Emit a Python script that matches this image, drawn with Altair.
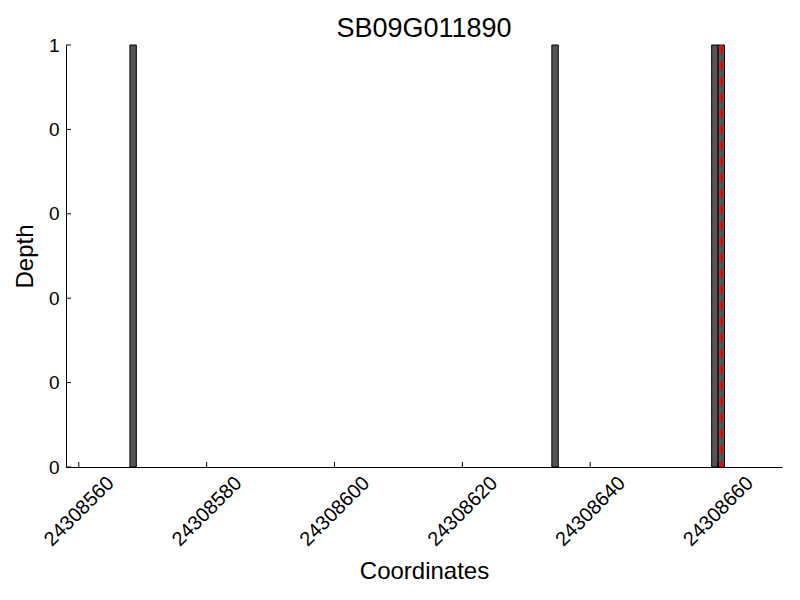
import altair as alt
import pandas as pd

title = "SB09G011890"
starts = [24308568, 24308634, 24308659, 24308660]
ends = [24308569, 24308635, 24308660, 24308661]
depths = [1, 1, 1, 1]
marker_x = [24308660.5]
x_ticks = [24308560, 24308580, 24308600, 24308620, 24308640, 24308660]
y_ticks = [0, 0.2, 0.4, 0.6, 0.8, 1.0]

W, H = 716, 422
bars_df = pd.DataFrame({"start": starts, "end": ends, "depth": depths})
marker_df = pd.DataFrame({"pos": marker_x})
xt_df = pd.DataFrame({"t": x_ticks})
yt_df = pd.DataFrame({"t": y_ticks})

FONT = "Liberation Sans"

xscale = alt.Scale(domain=[24308558, 24308670], nice=False, zero=False)
yscale = alt.Scale(domain=[0, 1], nice=False)

common = dict(grid=False, ticks=False, labelFont=FONT, titleFont=FONT,
              labelFontSize=20, titleFontSize=24, labelColor="black",
              titleColor="black", titleFontWeight="normal", domainColor="black",
              labelOverlap=False, labelFlush=False, labelLimit=0)

bars = alt.Chart(bars_df).mark_rect(
    color="#555555", stroke="black", strokeWidth=1
).encode(
    x=alt.X("start:Q", scale=xscale,
            axis=alt.Axis(values=x_ticks, format="d", title="Coordinates",
                          labelAngle=-45, labelAlign="center", labelBaseline="middle",
                          labelPadding=44, titlePadding=10, **common)),
    x2="end:Q",
    y=alt.Y("depth:Q", scale=yscale,
            axis=alt.Axis(values=y_ticks, labelExpr="floor(datum.value)", title="Depth",
                          labelPadding=7, labelFontSize=19, titlePadding=11,
                          **{k: v for k, v in common.items() if k != "labelFontSize"})),
    y2=alt.datum(0),
)

rule = alt.Chart(marker_df).mark_rule(
    color="red", strokeWidth=3, strokeDash=[8, 8]
).encode(x=alt.X("pos:Q", scale=xscale))

xticks = alt.Chart(xt_df).mark_rule(color="black", strokeWidth=1).encode(
    x=alt.X("t:Q", scale=xscale), y=alt.value(H - 5), y2=alt.value(H)
)
yticks = alt.Chart(yt_df).mark_rule(color="black", strokeWidth=1).encode(
    y=alt.Y("t:Q", scale=yscale), x=alt.value(0), x2=alt.value(5)
)

chart = alt.layer(bars, rule, xticks, yticks).properties(
    width=W, height=H,
    title=alt.Title(title, fontSize=27, font=FONT, fontWeight="normal", color="black", offset=-7),
    autosize=alt.AutoSizeParams(type="none"),
    padding={"left": 58, "top": 37, "right": 10, "bottom": 120},
).configure_view(stroke=None)

chart.save("out.html", embed_options={"renderer": "svg", "actions": False})
